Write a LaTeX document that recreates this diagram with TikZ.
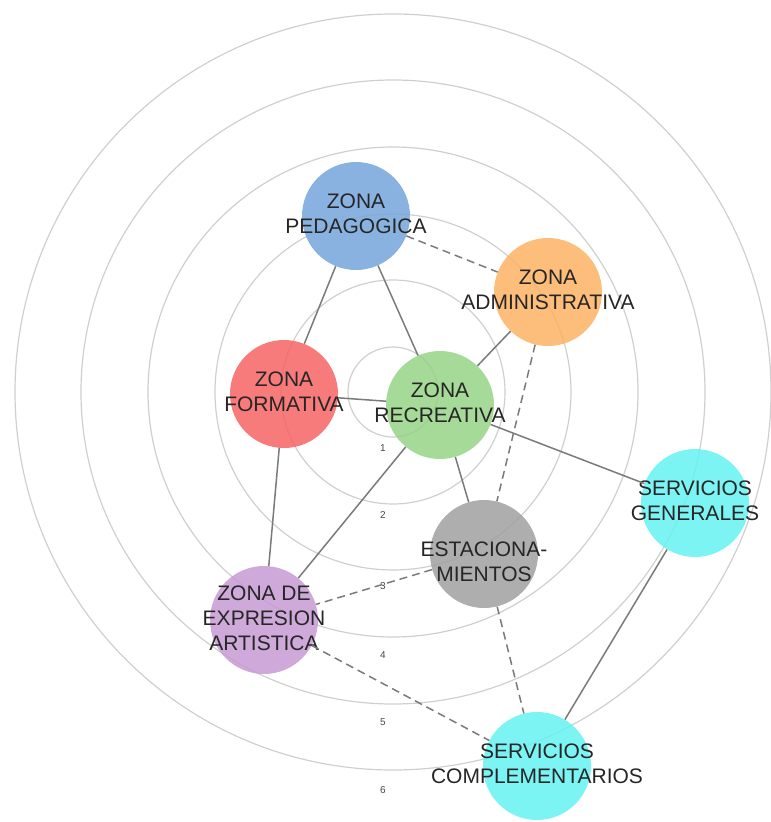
\documentclass[tikz,border=0pt]{standalone}
\usepackage{fontspec}
\setsansfont{Liberation Sans}
\usepackage{xcolor}
\definecolor{pedagogica}{HTML}{76A5DA}
\definecolor{administrativa}{HTML}{FDB164}
\definecolor{formativa}{HTML}{F76464}
\definecolor{recreativa}{HTML}{97D386}
\definecolor{servicios}{HTML}{66F2F2}
\definecolor{estacion}{HTML}{A0A0A0}
\definecolor{expresion}{HTML}{C69AD4}
\usepackage{tikz}
\newcommand{\zonelabel}[1]{\makebox[0pt]{\begin{tabular}{@{}c@{}}#1\end{tabular}}}

\begin{document}
\begin{tikzpicture}[x=1pt, y=-1pt,
  ring/.style={draw=black!19, line width=1.2pt},
  ringnum/.style={font=\sffamily\fontsize{10}{11}\selectfont, text=black!72, inner sep=0pt},
  zone/.style={circle, minimum size=108pt, inner sep=0pt, fill=#1, fill opacity=0.85,
        text opacity=1, text=black!85, font=\sffamily\fontsize{21}{25}\selectfont},
  link/.style={draw=black!52, line width=1.5pt},
  weak/.style={link, dash pattern=on 8pt off 5pt}]

  \useasboundingbox (0,0) rectangle (771,822);

  \foreach \r/\ly [count=\i] in {45/448,112/515,178/586,245/655,312/722,378/790} {
    \draw[ring] (393,392) circle[radius=\r];
    \node[ringnum] (num\i) at (383,\ly) {\i};
  }

  \node[zone=pedagogica] (ped) at (356,216) {\zonelabel{ZONA\\PEDAGOGICA}};
  \node[zone=administrativa] (adm) at (548,292) {\zonelabel{ZONA\\ADMINISTRATIVA}};
  \node[zone=formativa] (form) at (284,394) {\zonelabel{ZONA\\FORMATIVA}};
  \node[zone=recreativa] (rec) at (440,405) {\zonelabel{ZONA\\RECREATIVA}};
  \node[zone=servicios] (gen) at (695,503) {\zonelabel{SERVICIOS\\GENERALES}};
  \node[zone=estacion] (est) at (484,554) {\zonelabel{\\[-5pt]ESTACIONA-\\MIENTOS}};
  \node[zone=expresion] (exp) at (264,620) {\zonelabel{ZONA DE\\EXPRESION\\ARTISTICA}};
  \node[zone=servicios] (comp) at (537,766) {\zonelabel{SERVICIOS\\COMPLEMENTARIOS}};

  \draw[link] (ped) -- (form);
  \draw[link] (ped) -- (rec);
  \draw[link] (form) -- (rec);
  \draw[link] (adm) -- (rec);
  \draw[link] (rec) -- (gen);
  \draw[link] (rec) -- (est);
  \draw[link] (form) -- (exp);
  \draw[link] (rec) -- (exp);
  \draw[link] (gen) -- (comp);

  \draw[weak] (ped) -- (adm);
  \draw[weak] (adm) -- (est);
  \draw[weak] (est) -- (exp);
  \draw[weak] (est) -- (comp);
  \draw[weak] (exp) -- (comp);

\end{tikzpicture}
\end{document}
